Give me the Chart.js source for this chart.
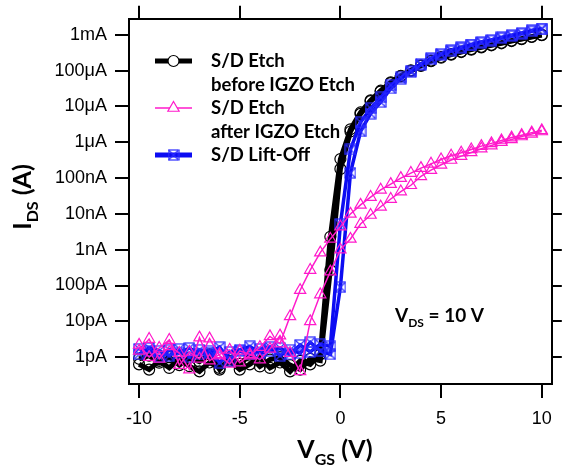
<!DOCTYPE html>
<html>
<head>
<meta charset="utf-8">
<script src="https://cdn.jsdelivr.net/npm/chart.js@4.4.0/dist/chart.umd.min.js"></script>
<style>
  html, body { margin: 0; padding: 0; background: #fff; }
  #wrap { width: 562px; height: 470px; }
</style>
</head>
<body>
<div id="wrap"><canvas id="c" width="562" height="470"></canvas></div>
<script>
// gate voltage sweep (V)
const vgs = [-10, -9.5, -9, -8.5, -8, -7.5, -7, -6.5, -6, -5.5, -5, -4.5, -4, -3.5, -3, -2.5, -2, -1.5, -1, -0.5,
  0, 0.5, 1, 1.5, 2, 2.5, 3, 3.5, 4, 4.5, 5, 5.5, 6, 6.5, 7, 7.5, 8, 8.5, 9, 9.5, 10];

// drain current (A)
const etchBeforeA = [6.3e-13, 4.5e-13, 7.9e-13, 5.0e-13, 8.9e-13, 5.6e-13, 4.0e-13, 7.1e-13, 5.0e-13, 7.9e-13,
  4.5e-13, 6.3e-13, 1.0e-12, 5.0e-13, 7.1e-13, 4.0e-13, 7.9e-13, 6.3e-13, 1.2e-12, 2.3e-9,
  3.4e-7, 2.3e-6, 6.8e-6, 1.48e-5, 2.75e-5, 4.7e-5, 7.2e-5, 1.02e-4, 1.41e-4, 1.9e-4,
  2.4e-4, 2.9e-4, 3.4e-4, 4.0e-4, 4.6e-4, 5.25e-4, 6.0e-4, 6.9e-4, 7.8e-4, 8.9e-4, 1.0e-3];
const etchBeforeB = [9.0e-13, 1.1e-12, 7.0e-13, 1.0e-12, 6.0e-13, 9.5e-13, 7.5e-13, 1.2e-12, 4.5e-13, 9.0e-13,
  6.5e-13, 1.1e-12, 5.5e-13, 8.5e-13, 1.0e-12, 6.0e-13, 4.5e-13, 9.0e-13, 8.0e-13, 2.7e-10,
  1.8e-7, 2.0e-6, 6.2e-6, 1.4e-5, 2.6e-5, 4.5e-5, 6.9e-5, 9.8e-5, 1.36e-4, 1.83e-4,
  2.3e-4, 2.8e-4, 3.3e-4, 3.85e-4, 4.45e-4, 5.1e-4, 5.8e-4, 6.7e-4, 7.6e-4, 8.7e-4, 9.8e-4];
const etchAfterA = [1.5e-12, 3.2e-12, 9.0e-13, 2.0e-12, 1.3e-12, 4.5e-13, 3.5e-12, 8.0e-13, 1.2e-12, 1.6e-12,
  7.0e-13, 1.1e-12, 1.9e-12, 3.8e-12, 2.4e-12, 1.38e-11, 7.4e-11, 2.7e-10, 8.3e-10, 2.0e-9,
  4.4e-9, 1.0e-8, 1.78e-8, 2.95e-8, 4.7e-8, 6.8e-8, 1.0e-7, 1.38e-7, 1.9e-7, 2.5e-7,
  3.3e-7, 4.2e-7, 5.1e-7, 6.3e-7, 7.8e-7, 9.3e-7, 1.12e-6, 1.35e-6, 1.58e-6, 1.86e-6, 2.15e-6];
const etchAfterB = [2.2e-12, 1.0e-12, 1.8e-12, 3.0e-12, 6.0e-13, 1.4e-12, 9.0e-13, 3.3e-12, 1.1e-12, 6.5e-13,
  1.5e-12, 1.2e-12, 8.5e-13, 1.7e-12, 4.0e-12, 1.3e-12, 4.0e-13, 1.0e-11, 5.6e-11, 2.45e-10,
  1.0e-9, 2.0e-9, 5.2e-9, 9.3e-9, 1.58e-8, 2.6e-8, 4.2e-8, 6.3e-8, 1.12e-7, 1.66e-7,
  2.35e-7, 3.2e-7, 4.1e-7, 5.2e-7, 6.6e-7, 8.1e-7, 1.0e-6, 1.2e-6, 1.45e-6, 1.7e-6, 2.0e-6];
const liftOffA = [1.7e-12, 1.5e-12, 1.0e-12, 1.6e-12, 1.3e-12, 1.8e-12, 1.2e-12, 1.5e-12, 7.0e-13, 1.4e-12,
  1.6e-12, 2.0e-12, 1.3e-12, 1.5e-12, 1.8e-12, 1.2e-12, 2.2e-12, 1.4e-12, 2.3e-12, 2.0e-12,
  5.2e-9, 6.3e-7, 3.6e-6, 8.9e-6, 1.78e-5, 3.9e-5, 6.5e-5, 1.0e-4, 1.55e-4, 2.2e-4,
  3.0e-4, 3.7e-4, 4.45e-4, 5.35e-4, 6.3e-4, 7.2e-4, 8.5e-4, 9.8e-4, 1.12e-3, 1.32e-3, 1.5e-3];
const liftOffB = [1.2e-12, 1.8e-12, 1.5e-12, 1.1e-12, 1.7e-12, 1.0e-12, 1.6e-12, 1.3e-12, 1.9e-12, 8.0e-13,
  1.5e-12, 1.2e-12, 1.7e-12, 1.9e-12, 1.1e-12, 1.6e-12, 1.3e-12, 2.6e-12, 1.5e-12, 1.2e-12,
  9.0e-11, 1.4e-7, 2.0e-6, 6.3e-6, 1.32e-5, 3.2e-5, 5.9e-5, 9.3e-5, 1.45e-4, 2.05e-4,
  2.8e-4, 3.5e-4, 4.2e-4, 5.1e-4, 6.0e-4, 6.9e-4, 8.1e-4, 9.3e-4, 1.07e-3, 1.25e-3, 1.42e-3];

const xTicks = [-10, -5, 0, 5, 10];
const yTickValues = [1e-12, 1e-11, 1e-10, 1e-9, 1e-8, 1e-7, 1e-6, 1e-5, 1e-4, 1e-3];
const yTickLabels = ["1pA", "10pA", "100pA", "1nA", "10nA", "100nA", "1μA", "10μA", "100μA", "1mA"];

const BLACK = "#000000";
const PINK = "#ff1acb";
const BLUE = "#0c0cf2";

// open square with an X, used as the lift-off marker
function squareX(size, color) {
  const c = document.createElement("canvas");
  c.width = size;
  c.height = size;
  const g = c.getContext("2d");
  g.strokeStyle = color;
  g.lineWidth = 1.2;
  g.strokeRect(1, 1, size - 2, size - 2);
  g.beginPath();
  g.moveTo(1, 1); g.lineTo(size - 1, size - 1);
  g.moveTo(size - 1, 1); g.lineTo(1, size - 1);
  g.stroke();
  return c;
}
const sqMarker = squareX(12, "#2a2aff");

function pts(arr) {
  return vgs.map((v, i) => ({ x: v, y: arr[i] }));
}

function blackSet(arr) {
  return {
    data: pts(arr), borderColor: BLACK, borderWidth: 5, pointStyle: "circle", pointRadius: 5.5,
    pointBorderColor: BLACK, pointBorderWidth: 1.2, pointBackgroundColor: "rgba(0,0,0,0)", order: 3
  };
}
function pinkSet(arr) {
  return {
    data: pts(arr), borderColor: PINK, borderWidth: 1.5, pointStyle: "triangle", pointRadius: 6.5,
    pointBorderColor: PINK, pointBorderWidth: 1.2, pointBackgroundColor: "rgba(0,0,0,0)", order: 1
  };
}
function blueSet(arr) {
  return {
    data: pts(arr), borderColor: BLUE, borderWidth: 3.5, pointStyle: sqMarker,
    pointBorderColor: BLUE, order: 2
  };
}

function drawParts(ctx, parts, x, y, align) {
  // parts: [text, font, dy]
  let total = 0;
  parts.forEach(p => { ctx.font = p[1]; total += ctx.measureText(p[0]).width; });
  let cx = align === "center" ? x - total / 2 : x;
  ctx.textAlign = "left";
  ctx.textBaseline = "alphabetic";
  parts.forEach(p => {
    ctx.font = p[1];
    ctx.fillText(p[0], cx, y + p[2]);
    cx += ctx.measureText(p[0]).width;
  });
}

const extras = {
  id: "extras",
  afterDraw(chart) {
    const ctx = chart.ctx;
    const H = Chart.helpers;
    ctx.save();
    ctx.fillStyle = "#000";

    // legend
    const lx0 = 155, lx1 = 192, tx = 211;
    const rows = [
      { y: 61, color: BLACK, width: 5, style: "circle", r: 5.5, lines: ["S/D Etch", "before IGZO Etch"] },
      { y: 108, color: PINK, width: 1.5, style: "triangle", r: 6.5, lines: ["S/D Etch", "after IGZO Etch"] },
      { y: 155, color: BLUE, width: 5, style: sqMarker, r: 6, lines: ["S/D Lift-Off"] }
    ];
    rows.forEach(r => {
      ctx.strokeStyle = r.color;
      ctx.lineWidth = r.width;
      ctx.beginPath();
      ctx.moveTo(lx0, r.y);
      ctx.lineTo(lx1, r.y);
      ctx.stroke();
      ctx.lineWidth = 1.2;
      ctx.strokeStyle = r.color;
      ctx.fillStyle = "#fff";
      H.drawPoint(ctx, { pointStyle: r.style, radius: r.r, rotation: 0, borderWidth: 1.2 }, (lx0 + lx1) / 2, r.y);
      ctx.fillStyle = "#000";
      ctx.font = "bold 18.5px Lato";
      ctx.textAlign = "left";
      ctx.textBaseline = "middle";
      r.lines.forEach((t, i) => ctx.fillText(t, tx, r.y + i * 24));
    });

    // x axis title
    drawParts(ctx, [["V", "bold 25px Lato", 0], ["GS", "bold 16px Lato", 7], [" (V)", "bold 25px Lato", 0]], 335, 458, "center");

    // V_DS annotation
    drawParts(ctx, [["V", "bold 19px Lato", 0], ["DS", "bold 12px Lato", 5], [" = 10 V", "bold 19px Lato", 0]], 395, 322, "left");

    // y axis title, rotated
    ctx.translate(31, 197);
    ctx.rotate(-Math.PI / 2);
    drawParts(ctx, [["I", "bold 25px Lato", 0], ["DS", "bold 16px Lato", 7], [" (A)", "bold 25px Lato", 0]], 0, 0, "center");
    ctx.restore();
  }
};

const tickFont = { family: "'Liberation Sans', Arial, sans-serif", size: 18 };
const gridOut = (len) => ({ drawOnChartArea: false, drawTicks: true, tickLength: len, color: "#000", lineWidth: 2 });
const box = { display: true, color: "#000", width: 2 };

new Chart(document.getElementById("c"), {
  type: "line",
  data: {
    datasets: [
      pinkSet(etchAfterA), pinkSet(etchAfterB),
      blueSet(liftOffA), blueSet(liftOffB),
      blackSet(etchBeforeA), blackSet(etchBeforeB)
    ]
  },
  options: {
    responsive: false,
    animation: false,
    layout: { padding: 0 },
    plugins: { legend: { display: false }, tooltip: { enabled: false } },
    elements: { line: { tension: 0 } },
    scales: {
      x: {
        type: "linear", position: "bottom", min: -10.5, max: 10.5,
        afterBuildTicks: s => { s.ticks = xTicks.map(v => ({ value: v })); },
        afterFit: s => { s.height = 86; },
        ticks: { font: tickFont, color: "#000", padding: 10, maxRotation: 0 },
        grid: gridOut(14), border: box
      },
      xTop: {
        type: "linear", position: "top", min: -10.5, max: 10.5,
        afterBuildTicks: s => { s.ticks = xTicks.map(v => ({ value: v })); },
        afterFit: s => { s.height = 16; },
        ticks: { display: false },
        grid: gridOut(13), border: box
      },
      y: {
        type: "logarithmic", position: "left", min: 1.78e-13, max: 2.8e-3,
        afterBuildTicks: s => { s.ticks = yTickValues.map(v => ({ value: v })); },
        afterFit: s => { s.width = 129; },
        ticks: {
          font: tickFont, color: "#000", padding: 8,
          callback: v => {
            const i = yTickValues.findIndex(t => Math.abs(Math.log10(t) - Math.log10(v)) < 0.01);
            return i >= 0 ? yTickLabels[i] : "";
          }
        },
        grid: gridOut(14), border: box
      },
      yRight: {
        type: "logarithmic", position: "right", min: 1.78e-13, max: 2.8e-3,
        afterBuildTicks: s => { s.ticks = yTickValues.map(v => ({ value: v })); },
        afterFit: s => { s.width = 10; },
        ticks: { display: false },
        grid: gridOut(10), border: box
      }
    }
  },
  plugins: [extras]
});
</script>
</body>
</html>
